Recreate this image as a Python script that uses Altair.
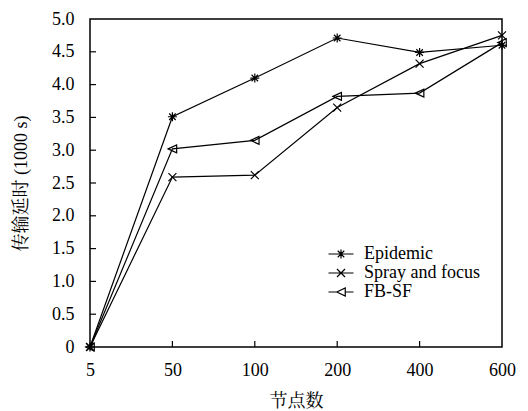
import altair as alt
import pandas as pd

nodes = ["5", "50", "100", "200", "400", "600"]
series = ["Epidemic", "Spray and focus", "FB-SF"]
epidemic = [0, 3.51, 4.10, 4.71, 4.49, 4.60]
spray = [0, 2.59, 2.62, 3.65, 4.32, 4.75]
fbsf = [0, 3.02, 3.15, 3.82, 3.87, 4.64]
y_ticks = [0.5, 1.0, 1.5, 2.0, 2.5, 3.0, 3.5, 4.0, 4.5]
x_ticks = ["50", "100", "200", "400"]

rows = []
for name, vals in zip(series, [epidemic, spray, fbsf]):
    for n, v in zip(nodes, vals):
        rows.append({"nodes": n, "delay": v, "series": name})
df = pd.DataFrame(rows)

marker_paths = [
    "M-0.9,0H0.9M0,-0.9V0.9M-0.65,-0.65L0.65,0.65M-0.65,0.65L0.65,-0.65",
    "M-0.8,-0.8L0.8,0.8M-0.8,0.8L0.8,-0.8",
    "M-0.85,0L0.85,-0.8L0.85,0.8Z",
]
legend_paths = [
    "M-2.5,0H2.5M0,-0.9V0.9M-0.65,-0.65L0.65,0.65M-0.65,0.65L0.65,-0.65",
    "M-2.5,0H2.5M-0.8,-0.8L0.8,0.8M-0.8,0.8L0.8,-0.8",
    "M-2.5,0H-0.85M-0.85,0L0.85,-0.8L0.85,0.8ZM0.85,0H2.5",
]

W, H = 412, 328
serif = "Liberation Serif"
cjk = "Liberation Serif, Noto Serif CJK SC, Noto Sans CJK SC, serif"

x_scale = alt.Scale(type="point", padding=0, domain=nodes)
y_scale = alt.Scale(domain=[0, 5])

x_axis = alt.Axis(
    title="节点数", labelAngle=0, ticks=False, domain=False, grid=False,
    labelPadding=14, labelFont=serif, labelFontSize=18, labelColor="black",
    labelOverlap=False,
    titleFont=cjk, titleFontSize=18, titleFontWeight="normal", titleColor="black",
    titleY=54, titleBaseline="middle",
)
y_axis = alt.Axis(
    title="传输延时 (1000 s)", values=[0, 0.5, 1, 1.5, 2, 2.5, 3, 3.5, 4, 4.5, 5],
    labelExpr="datum.value == 0 ? '0' : format(datum.value, '.1f')",
    ticks=False, domain=False, grid=False, labelPadding=16, labelOverlap=False,
    labelFont=serif, labelFontSize=18, labelColor="black",
    titleFont=cjk, titleFontSize=18, titleFontWeight="normal", titleColor="black",
    titleX=-69, titleBaseline="middle",
)


def xe():
    return alt.X("nodes:O", sort=nodes, scale=x_scale, axis=x_axis)


def ye():
    return alt.Y("delay:Q", scale=y_scale, axis=y_axis)


base = alt.Chart(df)
lines = base.mark_line(color="black", strokeWidth=1.2).encode(
    x=xe(), y=ye(), detail="series:N",
)
points = base.mark_point(filled=False, color="black", strokeWidth=1.2, size=100, opacity=1).encode(
    x=xe(), y=ye(),
    shape=alt.Shape("series:N", scale=alt.Scale(domain=series, range=marker_paths), legend=None),
)
legend_layer = base.mark_point(filled=False, color="black", strokeWidth=1.2, size=100, opacity=1).encode(
    x=xe(), y=ye(),
    shape=alt.Shape(
        "series:N",
        scale=alt.Scale(domain=series, range=legend_paths),
        legend=alt.Legend(
            title=None, orient="none", legendX=242, legendY=226,
            labelFont=serif, labelFontSize=18, labelColor="black",
            symbolSize=100, symbolStrokeColor="black", symbolStrokeWidth=1.2,
            symbolFillColor="transparent", labelOffset=14, rowPadding=1,
        ),
    ),
).transform_filter("datum.delay < -100")

ytick_df = pd.DataFrame({"delay": y_ticks})
yticks = alt.Chart(ytick_df).mark_rule(color="black", strokeWidth=1.2).encode(
    y=ye(), x=alt.value(0), x2=alt.value(6)
)
xtick_df = pd.DataFrame({"nodes": x_ticks})
xticks = alt.Chart(xtick_df).mark_rule(color="black", strokeWidth=1.2).encode(
    x=xe(), y=alt.value(H), y2=alt.value(H - 6),
)

chart = alt.layer(lines, points, legend_layer, yticks, xticks).resolve_scale(
    shape="independent"
).properties(
    width=W, height=H,
    autosize=alt.AutoSizeParams(type="none"),
    padding={"left": 82, "top": 11, "right": 18, "bottom": 62},
).configure(
    font=serif
).configure_axis(
    labelFont=serif, titleFont=cjk
).configure_view(stroke="black", strokeWidth=1.5)

chart.save("out.html", embed_options={"renderer": "svg", "actions": False})
